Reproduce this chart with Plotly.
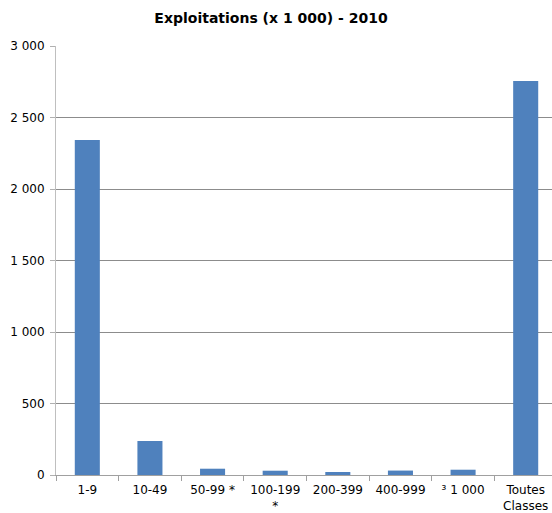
import plotly.graph_objects as go

categories = ["1-9", "10-49", "50-99 *", "100-199<br>*", "200-399", "400-999", "³ 1 000", "Toutes<br>Classes"]
values = [2343, 238, 44, 30, 21, 31, 37, 2755]
y_tickvals = [0, 500, 1000, 1500, 2000, 2500, 3000]
y_ticktext = ["0", "500", "1 000", "1 500", "2 000", "2 500", "3 000"]

fig = go.Figure(go.Bar(x=categories, y=values, marker_color="#4F81BD",
                       marker_line_width=0, width=0.4))

fig.update_layout(
    width=552, height=513,
    margin=dict(l=56, r=0, t=46, b=38, autoexpand=False),
    paper_bgcolor="white", plot_bgcolor="white",
    font=dict(family="DejaVu Sans, Verdana, sans-serif", size=12, color="black"),
    title=dict(text="<b>Exploitations (x 1 000) - 2010</b>", x=0.491, xanchor="center",
               y=0.965, yanchor="middle", font=dict(size=14)),
    showlegend=False,
    bargap=0.6,
)
fig.update_xaxes(range=[-0.5, 7.42], tickson="boundaries", ticks="outside", ticklen=5,
                 tickcolor="#A0A0A0", showline=True, linecolor="#A0A0A0", linewidth=1,
                 showgrid=False, tickangle=0, fixedrange=True, automargin=False,
                 ticklabelstandoff=4)
fig.update_yaxes(range=[0, 3000], tickvals=y_tickvals, ticktext=y_ticktext,
                 ticks="outside", ticklen=5, tickcolor="#B0B0B0",
                 showline=True, linecolor="#BFBFBF", linewidth=1,
                 showgrid=True, gridcolor="#8C8C8C", gridwidth=1, zeroline=False,
                 automargin=False, ticklabelstandoff=3)

fig.write_html("out.html", config={"displayModeBar": False},
               post_script="document.body.style.margin='0';document.body.style.overflow='hidden';")
